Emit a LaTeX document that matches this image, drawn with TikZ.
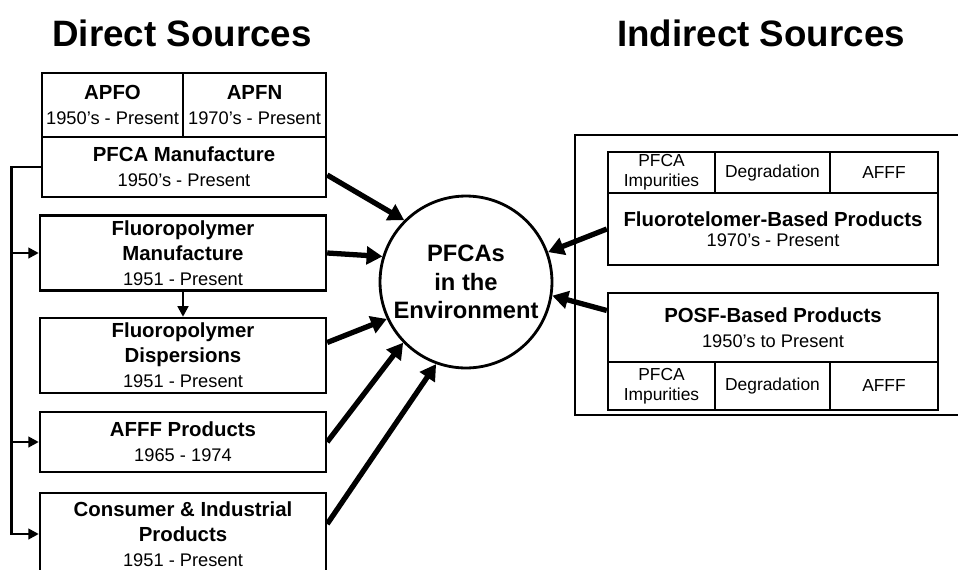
\documentclass[tikz,border=0pt]{standalone}
\usepackage{fontspec}
\setmainfont{Liberation Sans}
\usetikzlibrary{arrows.meta,calc}
\tikzset{
	cellbox/.style={draw, rectangle, line width=1.4pt, align=center, inner sep=0pt, font=\fontsize{10.4}{14.2}\selectfont},
	smallcell/.style={cellbox, font=\fontsize{9.9}{11.3}\selectfont},
	heading/.style={font=\fontsize{20.9}{25}\selectfont\bfseries},
	feed/.style={line width=1.6pt, -{Triangle[length=6pt,width=6pt]}},
	pour/.style={line width=3pt, -{Triangle[length=9pt,width=10pt]}},
}
\newcommand{\hd}[1]{{\fontsize{11.6}{14.2}\selectfont\bfseries #1}}
\begin{document}
\begin{tikzpicture}[x=0.02cm,y=-0.02cm]
	\useasboundingbox (0,0) rectangle (958,569);
	% titles
		\node [heading] (direct) at (182,33) {Direct Sources};
		\node [heading] (indirect) at (761,33) {Indirect Sources};
	% direct sources
		\node [cellbox, minimum width=2.82cm, minimum height=1.28cm] (apfo) at (112.5,105) {\hd{APFO}\\1950's - Present};
		\node [cellbox, minimum width=2.86cm, minimum height=1.28cm] (apfn) at (254.5,105) {\hd{APFN}\\1970's - Present};
		\node [cellbox, minimum width=5.68cm, minimum height=1.2cm] (pfcaman) at (184,167) {\hd{PFCA Manufacture}\\1950's - Present};
		\node [cellbox, minimum width=5.72cm, minimum height=1.5cm] (fpman) at (183,253) {\hd{Fluoropolymer}\\\hd{Manufacture}\\1951 - Present};
		\node [cellbox, minimum width=5.72cm, minimum height=1.5cm] (fpdisp) at (183,355.5) {\hd{Fluoropolymer}\\\hd{Dispersions}\\1951 - Present};
		\node [cellbox, minimum width=5.72cm, minimum height=1.2cm] (afff) at (183,442) {\hd{AFFF Products}\\1965 - 1974};
		\node [cellbox, minimum width=5.72cm, minimum height=1.64cm] (cons) at (183,534) {\hd{Consumer \& Industrial}\\\hd{Products}\\1951 - Present};
	% feeds between direct sources
		\coordinate (bus) at ($(pfcaman.west)+(-29,0)$);
		\draw [feed] (pfcaman.west) -- (bus) |- (cons.west);
		\draw [feed] (bus |- fpman.west) -- (fpman.west);
		\draw [feed] (bus |- afff.west) -- (afff.west);
		\draw [feed] (fpman.south) -- (fpdisp.north);
	% environment
		\node [draw, circle, line width=1.6pt, minimum size=3.44cm, inner sep=0pt, align=center, font=\fontsize{13.5}{16.4}\selectfont\bfseries] (env) at (466,282) {PFCAs\\in the\\Environment};
	% indirect sources
		\node [draw, rectangle, line width=1.4pt, minimum width=8.4cm, minimum height=5.6cm] (frame) at (785,275) {};
		\node [smallcell, minimum width=2.14cm, minimum height=0.82cm] (imp1) at (661.5,172.5) {PFCA\\Impurities};
		\node [smallcell, minimum width=2.3cm, minimum height=0.82cm] (deg1) at (772.5,172.5) {Degradation};
		\node [smallcell, minimum width=2.16cm, minimum height=0.82cm] (aff1) at (884,172.5) {AFFF};
		\node [cellbox, minimum width=6.6cm, minimum height=1.44cm] (ftp) at (773,229) {\hd{Fluorotelomer-Based Products}\\[-3pt]1970's - Present};
		\node [cellbox, minimum width=6.6cm, minimum height=1.38cm] (posf) at (773,327.5) {\hd{POSF-Based Products}\\1950's to Present};
		\node [smallcell, minimum width=2.14cm, minimum height=0.96cm] (imp2) at (661.5,386) {PFCA\\Impurities};
		\node [smallcell, minimum width=2.3cm, minimum height=0.96cm] (deg2) at (772.5,386) {Degradation};
		\node [smallcell, minimum width=2.16cm, minimum height=0.96cm] (aff2) at (884,386) {AFFF};
	% arrows into the environment
		\draw [pour] ($(pfcaman.east)+(0,8)$) -- (env.135);
		\draw [pour] (fpman.east) -- (env.163);
		\draw [pour] ($(fpdisp.east)+(0,-13)$) -- (env.205);
		\draw [pour] (afff.east) -- (env.224);
		\draw [pour] ($(cons.east)+(0,-10)$) -- (env.250);
		\draw [pour] (ftp.west) -- (env.20);
		\draw [pour] ($(posf.west)+(0,-17)$) -- (env.-9);
\end{tikzpicture}
\end{document}
